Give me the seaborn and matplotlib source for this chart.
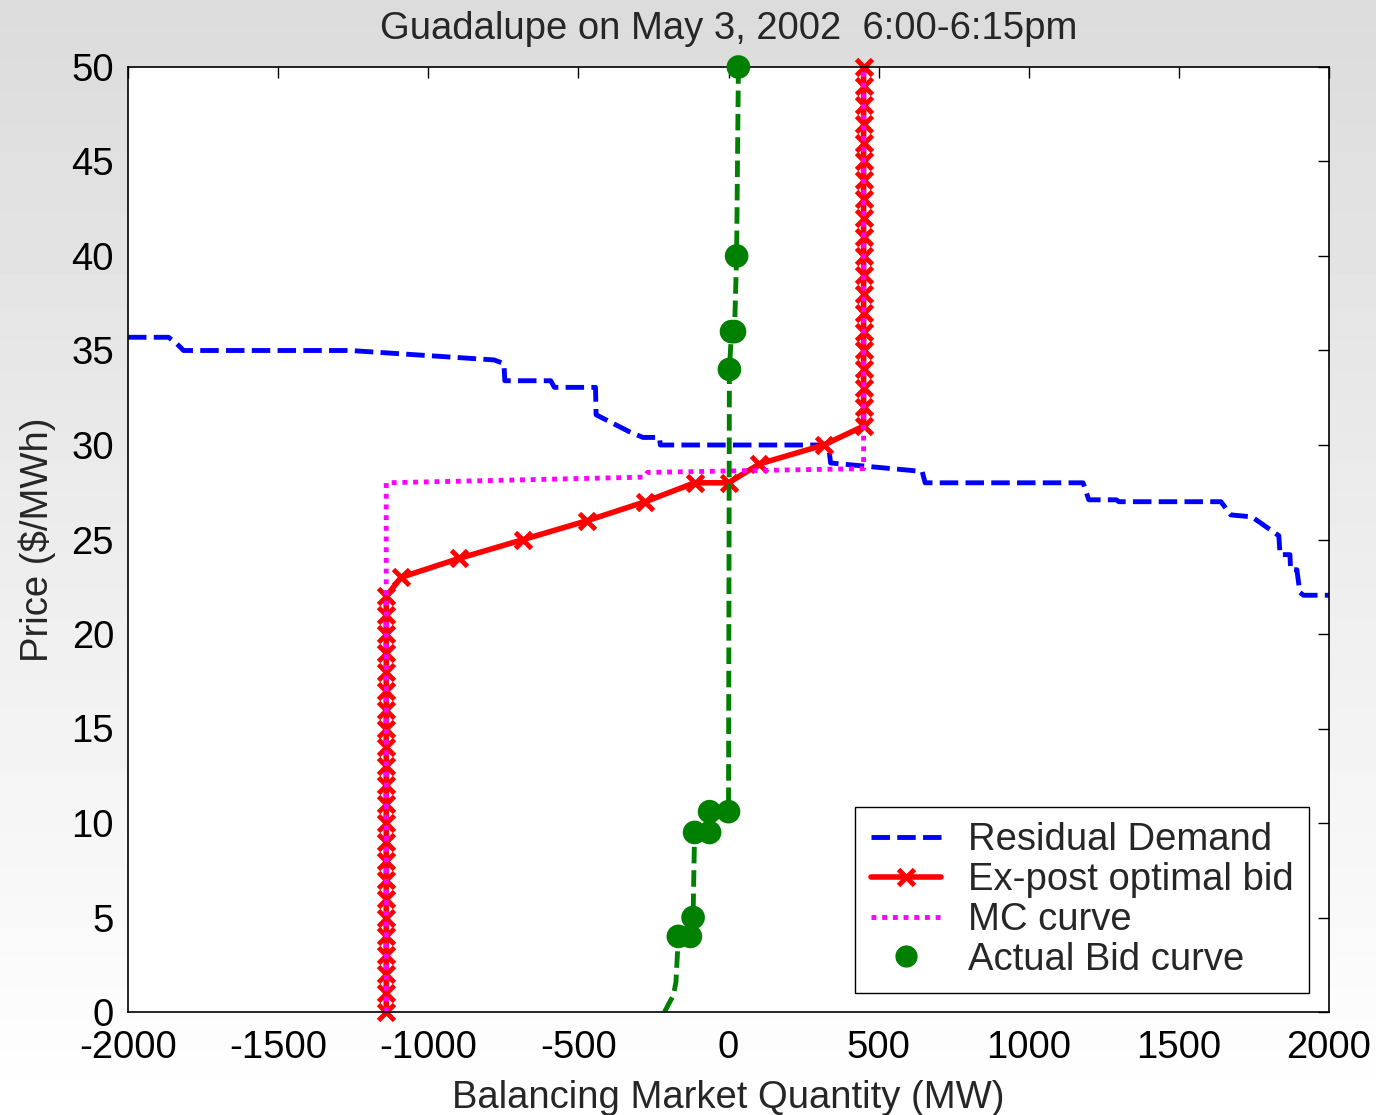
import numpy as np
import matplotlib
matplotlib.use("Agg")
import matplotlib.pyplot as plt
import seaborn as sns
from matplotlib.lines import Line2D

# ---------------- data ----------------
title = "Guadalupe on May 3, 2002  6:00-6:15pm"
x_label = "Balancing Market Quantity (MW)"
y_label = "Price ($/MWh)"
legend_labels = ["Residual Demand", "Ex-post optimal bid", "MC curve", "Actual Bid curve"]
x_ticks = [-2000, -1500, -1000, -500, 0, 500, 1000, 1500, 2000]
y_ticks = [0, 5, 10, 15, 20, 25, 30, 35, 40, 45, 50]

# Residual demand (blue dashed)
rd_x = [-2000, -1865, -1840, -1815, -1260, -780, -748, -745, -592, -580, -443, -441,
        -330, -285, -230, -227, 333, 340, 645, 655, 1181, 1200, 1292, 1300, 1640,
        1673, 1743, 1833, 1837, 1870, 1872, 1893, 1903, 1915, 2000]
rd_y = [35.7, 35.7, 35.4, 35.0, 35.0, 34.5, 34.3, 33.4, 33.4, 33.05, 33.05, 31.6,
        30.7, 30.4, 30.4, 30.0, 30.0, 29.05, 28.6, 28.0, 28.0, 27.1, 27.1, 27.0, 27.0,
        26.3, 26.2, 25.2, 24.2, 24.2, 23.4, 23.4, 22.2, 22.05, 22.05]

# Ex-post optimal bid (red, x markers)
opt_x = [-1140, -1140, -1140, -1140, -1140, -1140, -1140, -1140, -1140, -1140,
         -1140, -1140, -1140, -1140, -1140, -1140, -1140, -1140, -1140, -1140,
         -1140, -1140, -1140,
         -1090, -897, -683, -470, -277, -113, 0, 103, 317,
         450, 450, 450, 450, 450, 450, 450, 450, 450, 450,
         450, 450, 450, 450, 450, 450, 450, 450, 450, 450]
opt_y = [0, 1, 2, 3, 4, 5, 6, 7, 8, 9,
         10, 11, 12, 13, 14, 15, 16, 17, 18, 19,
         20, 21, 22,
         23, 24, 25, 26, 27, 28, 28, 29, 30,
         31, 32, 33, 34, 35, 36, 37, 38, 39, 40,
         41, 42, 43, 44, 45, 46, 47, 48, 49, 50]

# Marginal cost curve (magenta dotted)
mc_x = [-1140, -1140, -280, -270, 450, 450]
mc_y = [0, 28.0, 28.3, 28.55, 28.75, 50]

# Actual bid curve (green dashed line + dots)
act_line_x = [-213, -200, -183, -175, -167, -127, -118, -113, -63, -63, 0, 3, 10, 20, 27, 33]
act_line_y = [0, 0.4, 0.9, 1.6, 4.0, 4.0, 5.0, 9.5, 9.5, 10.6, 10.6, 34.0, 36.0, 36.0, 40.0, 50.0]
act_dot_x = [-167, -127, -118, -113, -63, -63, 0, 3, 10, 20, 27, 33]
act_dot_y = [4.0, 4.0, 5.0, 9.5, 9.5, 10.6, 10.6, 34.0, 36.0, 36.0, 40.0, 50.0]

# ---------------- style ----------------
sns.set_theme(style="white")
plt.rcParams['font.family'] = ['Liberation Sans', 'DejaVu Sans']
plt.rcParams['font.size'] = 27.5

fig = plt.figure(figsize=(13.76, 11.15), dpi=100)

# gradient background
bg = fig.add_axes([0, 0, 1, 1], zorder=0)
grad = np.linspace(0.86, 1.0, 256).reshape(-1, 1)
bg.imshow(grad, aspect='auto', cmap='gray', vmin=0, vmax=1,
          extent=[0, 1, 0, 1], origin='upper')
bg.axis('off')

ax = fig.add_axes([128 / 1376, (1115 - 1012) / 1115, 1201 / 1376, 945 / 1115], zorder=1)
ax.set_facecolor('white')

rd_ls = (0, (3.8, 1.5))
mc_ls = (0, (1.0, 1.2))
act_ls = (0, (3.4, 1.4))

sns.lineplot(x=rd_x, y=rd_y, sort=False, estimator=None, color='#0000ff',
             lw=3.5, linestyle=rd_ls, ax=ax, legend=False)
sns.lineplot(x=opt_x, y=opt_y, sort=False, estimator=None, color='#ff0000',
             lw=4, marker='x', markersize=12, mew=3.5, mec='#ff0000',
             ax=ax, legend=False, clip_on=False)
sns.lineplot(x=mc_x, y=mc_y, sort=False, estimator=None, color='#ff00ff',
             lw=3.5, linestyle=mc_ls, ax=ax, legend=False)
sns.lineplot(x=act_line_x, y=act_line_y, sort=False, estimator=None, color='#008000',
             lw=3.5, linestyle=act_ls, ax=ax, legend=False)
sns.scatterplot(x=act_dot_x, y=act_dot_y, color='#008000', s=290,
                edgecolor='none', linewidth=0, ax=ax, legend=False, zorder=5,
                clip_on=False)

ax.set_xlim(-2000, 2000)
ax.set_ylim(0, 50)
ax.set_xticks(x_ticks)
ax.set_yticks(y_ticks)
ax.set_xticklabels([str(v) for v in x_ticks])
ax.set_yticklabels([str(v) for v in y_ticks])
ax.tick_params(direction='in', length=8, width=1, top=True, right=True,
               colors='black', labelsize=27.5)
ax.tick_params(axis='x', pad=13)
ax.tick_params(axis='y', pad=10)
for sp in ax.spines.values():
    sp.set_visible(True)
    sp.set_color('black')
    sp.set_linewidth(1.2)

ax.set_title(title, fontsize=27.5, pad=20)
ax.set_xlabel(x_label, fontsize=27.5, labelpad=10)
ax.set_ylabel(y_label, fontsize=27.5, labelpad=11)

handles = [
    Line2D([], [], color='#0000ff', lw=3.5, linestyle=rd_ls),
    Line2D([], [], color='#ff0000', lw=4, marker='x', ms=12, mew=3.5),
    Line2D([], [], color='#ff00ff', lw=3.5, linestyle=mc_ls),
    Line2D([], [], color='#008000', linestyle='none', marker='o', ms=15),
]
leg = ax.legend(handles, legend_labels, loc='lower right',
                bbox_to_anchor=(0.983, 0.02), borderaxespad=0,
                fontsize=27.5, handlelength=1.84, handletextpad=0.7,
                labelspacing=0.1, borderpad=0.4, numpoints=1,
                fancybox=False, framealpha=1, edgecolor='black')
leg.get_frame().set_linewidth(1.0)
leg.set_zorder(10)

fig.savefig('out.png', dpi=100)
